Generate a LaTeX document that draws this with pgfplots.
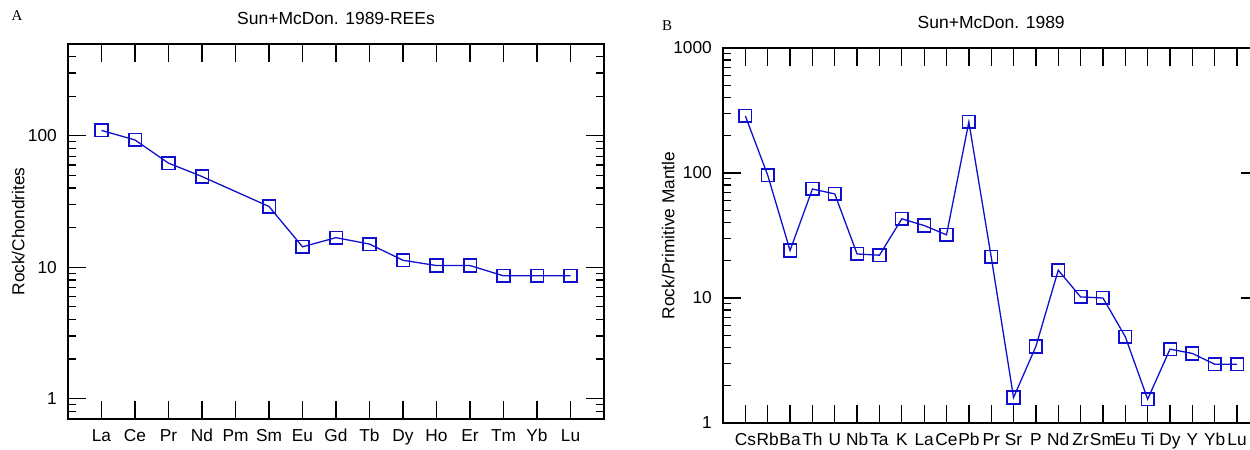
\documentclass[border={0pt 0pt -10.3pt 0pt}]{standalone}
\usepackage{pgfplots}
\pgfplotsset{compat=1.18}
\usepackage{fontspec}
\setmainfont{Liberation Sans}
\newfontfamily\seriffont{Liberation Serif}
\definecolor{pblue}{RGB}{15,15,205}
\pgfplotsset{
  myax/.style={
    scale only axis, height=375pt, anchor=south west, clip=false,
    axis line style={line width=1.8pt, black},
    tick align=inside,
    major tick length=18pt, minor tick length=8pt,
    tick style={line width=1.3pt, black},
    log ticks with fixed point,
    /pgf/number format/1000 sep={},
    /pgf/number format/assume math mode=true,
    tick label style={font=\fontsize{17.3}{20}\selectfont, inner sep=0pt, black},
    yticklabel style={anchor=east, xshift=-11pt},
    xticklabel style={anchor=base, yshift=-22.6pt},
    title style={font=\fontsize{17.5}{20}\selectfont, at={(axis description cs:0.5,1)}, anchor=center, inner sep=0pt},
    label style={font=\fontsize{17.3}{20}\selectfont, inner sep=0pt},
  },
  myplot/.style={pblue, line width=1.3pt, mark=square, mark size=6.3pt,
    mark options={line width=1.6pt, fill=none, solid}},
}
\begin{document}
\begin{tikzpicture}
\path (0,0) rectangle (1250pt,446pt);
\begin{axis}[ymode=log, myax,
  at={(68pt,27pt)}, width=536pt,
  xmin=0, xmax=16, ymin=0.7, ymax=500,
  xtick={1,...,15},
  xticklabels={La,Ce,Pr,Nd,Pm,Sm,Eu,Gd,Tb,Dy,Ho,Er,Tm,Yb,Lu},
  title={Sun+McDon. 1989-REEs},
  title style={yshift=19.5pt},
  ylabel={Rock/Chondrites},
  ylabel style={at={(axis description cs:-0.093,0.5)}, anchor=center},
]
\addplot[myplot] coordinates {
(1,110) (2,93) (3,62) (4,49) (6,29) (7,14.3) (8,16.8) (9,15) (10,11.3)
(11,10.3) (12,10.3) (13,8.6) (14,8.6) (15,8.6)};
\node[font=\seriffont\fontsize{15}{17}\selectfont, inner sep=0pt] at (axis description cs:-0.095,1.077) {A};
\end{axis}
\begin{axis}[ymode=log, myax,
  at={(723pt,23pt)}, width=536.4pt,
  xmin=0, xmax=24, ymin=1, ymax=1000,
  xtick={1,...,23},
  xticklabels={Cs,Rb,Ba,Th,U,Nb,Ta,K,La,Ce,Pb,Pr,Sr,P,Nd,Zr,Sm,Eu,Ti,Dy,Y,Yb,Lu},
  title={Sun+McDon. 1989},
  title style={yshift=20pt},
  ylabel={Rock/Primitive Mantle},
  ylabel style={at={(axis description cs:-0.102,0.5)}, anchor=center},
]
\addplot[myplot] coordinates {
(1,286) (2,96) (3,24) (4,74.5) (5,68) (6,22.5) (7,22) (8,43) (9,38) (10,32)
(11,256) (12,21.3) (13,1.6) (14,4.1) (15,16.7) (16,10.2) (17,10.0) (18,4.9)
(19,1.55) (20,3.9) (21,3.6) (22,2.95) (23,2.95)};
\node[font=\seriffont\fontsize{15}{17}\selectfont, inner sep=0pt] at (axis description cs:-0.104,1.059) {B};
\end{axis}
\end{tikzpicture}
\end{document}
